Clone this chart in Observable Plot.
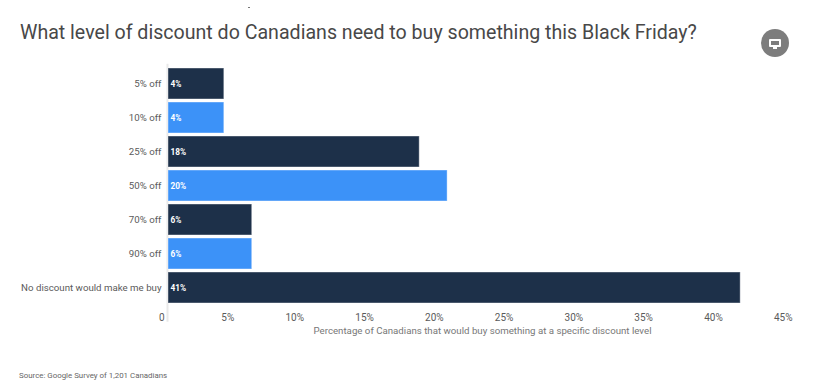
<!DOCTYPE html>
<html>
<head>
<meta charset="utf-8">
<script src="https://cdn.jsdelivr.net/npm/d3@7"></script>
<script src="https://cdn.jsdelivr.net/npm/@observablehq/plot@0.6"></script>
<style>
html,body{margin:0;padding:0;background:#fff;font-family:Roboto,sans-serif}
#wrap{position:relative;width:818px;height:389px;overflow:hidden}
#title{position:absolute;left:20px;top:20px;font-size:19.6px;line-height:26px;color:#484848;white-space:nowrap;font-weight:400}
#source{position:absolute;left:19px;top:370px;font-size:7.9px;line-height:12px;color:#666;white-space:nowrap}
#btn{position:absolute;left:761px;top:29px;width:28px;height:28px;border-radius:50%;background:#7d7d7d}
#btn:before{content:"";position:absolute;left:8px;top:10px;width:8px;height:4px;border:2px solid #fff;border-radius:1px;background:#7d7d7d}
#btn:after{content:"";position:absolute;left:12px;top:18px;width:4px;height:2px;background:#fff}
#dot{position:absolute;left:248px;top:7px;width:2px;height:1px;background:#777}
svg{position:absolute;left:0;top:0}
</style>
</head>
<body>
<div id="wrap">
  <div id="dot"></div>
  <div id="title">What level of discount do Canadians need to buy something this Black Friday?</div>
  <div id="btn"></div>
  <div id="chart"></div>
  <div id="source">Source: Google Survey of 1,201 Canadians</div>
</div>
<script>
const categories = ["5% off","10% off","25% off","50% off","70% off","90% off","No discount would make me buy"];
const values = [4,4,18,20,6,6,41];
const tickValues = [0,5,10,15,20,25,30,35,40,45];
const xLabel = "Percentage of Canadians that would buy something at a specific discount level";
const barColors = ["#1d3049","#3c92f8","#1d3049","#3c92f8","#1d3049","#3c92f8","#1d3049"];

const rows = categories.map((c,i)=>({category:c,value:values[i]}));

const chart = Plot.plot({
  width:818,
  height:389,
  marginLeft:168,
  marginRight:22,
  marginTop:63.7,
  marginBottom:82.3,
  style:{fontFamily:"Roboto, sans-serif",background:"transparent",overflow:"visible"},
  x:{domain:[0,45],label:null},
  y:{domain:categories,label:null,padding:0.095},
  color:{domain:categories,range:barColors},
  marks:[
    Plot.ruleX([0],{stroke:"#e9e9e9",strokeWidth:2,dx:-1,insetBottom:-15}),
    Plot.barX(rows,{x:"value",y:"category",fill:"category",stroke:"#fff",strokeOpacity:0.4,strokeWidth:1}),
    Plot.text(rows,{x:0,y:"category",text:d=>d.value+"%",textAnchor:"start",dx:2,fill:"#fff",fontSize:8.3,fontWeight:700}),
    Plot.axisY({tickSize:0,tickPadding:7,fontSize:9.7,color:"#5a5a5a",label:null,fontWeight:400}),
    Plot.axisX({ticks:tickValues,tickSize:0,tickPadding:7,tickFormat:d=>d===0?"0":d+"%",textAnchor:"end",dx:-4,fontSize:10,color:"#5a5a5a",fontWeight:400,label:null}),
    Plot.text([xLabel],{frameAnchor:"bottom",text:d=>d,dy:27,fontSize:9.7,fill:"#777"})
  ]
});
document.getElementById("chart").appendChild(chart);
</script>
</body>
</html>
